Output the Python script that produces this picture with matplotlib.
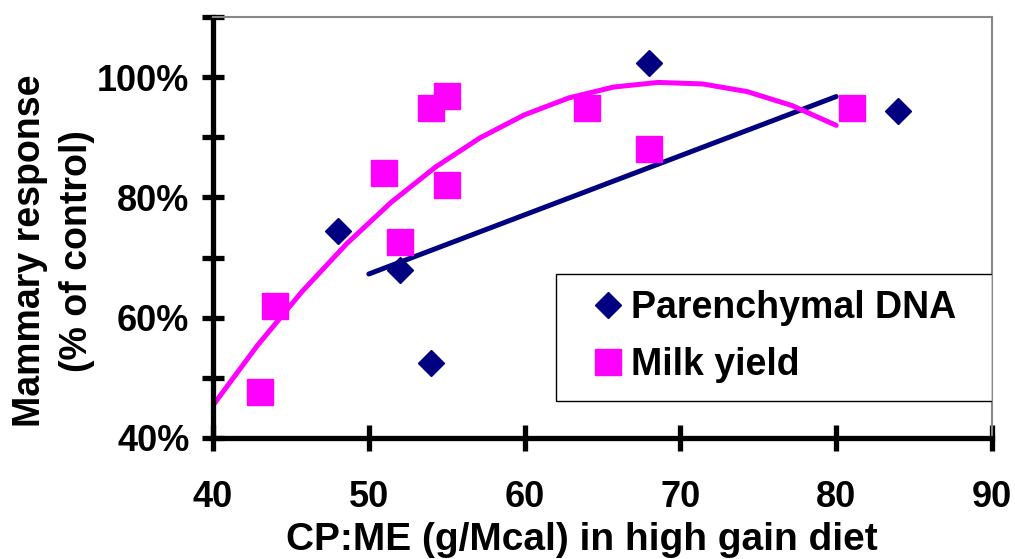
import numpy as np
import matplotlib
matplotlib.use('Agg')
import matplotlib.pyplot as plt
from matplotlib.patches import Rectangle
from matplotlib.ticker import MultipleLocator, FuncFormatter

plt.rcParams['font.family'] = ['Liberation Sans', 'DejaVu Sans']
plt.rcParams['font.weight'] = 'bold'

# CP:ME ratio vs mammary response (% of control)
dna_x = [48, 52, 54, 68, 84]
dna_y = [74.4, 67.9, 52.4, 102.4, 94.3]
milk_x = [43, 44, 51, 52, 54, 55, 55, 64, 68, 81]
milk_y = [47.7, 62.0, 84.1, 72.6, 94.9, 96.8, 82.1, 94.8, 88.1, 94.8]

navy = '#000080'
magenta = '#FF00FF'

fig = plt.figure(figsize=(10.15, 5.59), dpi=100)
ax = fig.add_axes([0.2099, 0.2165, 0.7674, 0.7531])

# trend lines: linear for DNA, 2nd order polynomial for milk yield
p1 = np.polyfit(dna_x, dna_y, 1)
xl = np.linspace(50, 80, 2)
ax.plot(xl, np.polyval(p1, xl), color=navy, lw=3.6, solid_capstyle='round', zorder=2)
p2 = np.polyfit(milk_x, milk_y, 2)
xq = np.linspace(40, 80, 15)
ax.plot(xq, np.polyval(p2, xq), color=magenta, lw=3.6, solid_capstyle='round', zorder=2)

ax.plot(dna_x, dna_y, 'D', color=navy, ms=13.5, mec=navy, ls='none',
        label='Parenchymal DNA', zorder=3)
ax.plot(milk_x, milk_y, 's', color=magenta, ms=18.5, mec=magenta, ls='none',
        label='Milk yield', zorder=3)

ax.set_xlim(40, 90)
ax.set_ylim(40, 110)
ax.xaxis.set_major_locator(MultipleLocator(10))
ax.yaxis.set_major_locator(MultipleLocator(20))
ax.yaxis.set_minor_locator(MultipleLocator(10))
ax.yaxis.set_major_formatter(FuncFormatter(lambda v, p: '%d%%' % v))

for s in ['left', 'bottom']:
    ax.spines[s].set_linewidth(3.8)
    ax.spines[s].set_color('black')
for s in ['top', 'right']:
    ax.spines[s].set_linewidth(1.5)
    ax.spines[s].set_color('#888888')

ax.tick_params(axis='x', which='major', direction='inout', length=19, width=3.8,
               labelsize=26, pad=21, top=False)
ax.tick_params(axis='y', which='both', direction='inout', length=16, width=3.8,
               labelsize=26, pad=9, right=False)

ax.set_xlabel('CP:ME (g/Mcal) in high gain diet', fontsize=28, fontweight='bold')
ax.xaxis.set_label_coords(0.474, -0.2)
ax.set_ylabel('Mammary response\n(% of control)', fontsize=27, fontweight='bold',
              linespacing=1.42)
ax.yaxis.set_label_coords(-0.151, 0.444)

# legend box drawn separately so the entries can sit inset from its left edge
ax.add_patch(Rectangle((0.4403, 0.0879), 0.5597, 0.3017, transform=ax.transAxes,
                       facecolor='white', edgecolor='black', lw=1.0, zorder=4))
leg = ax.legend(loc='upper left', bbox_to_anchor=(0.4904, 0.352), fontsize=27,
                frameon=False, handlelength=0.7, handletextpad=0.25,
                borderpad=0, labelspacing=0.57, borderaxespad=0, markerscale=1.0)
leg.set_zorder(5)
for t in leg.get_texts():
    t.set_fontweight('bold')

fig.savefig('out.png', dpi=100)
